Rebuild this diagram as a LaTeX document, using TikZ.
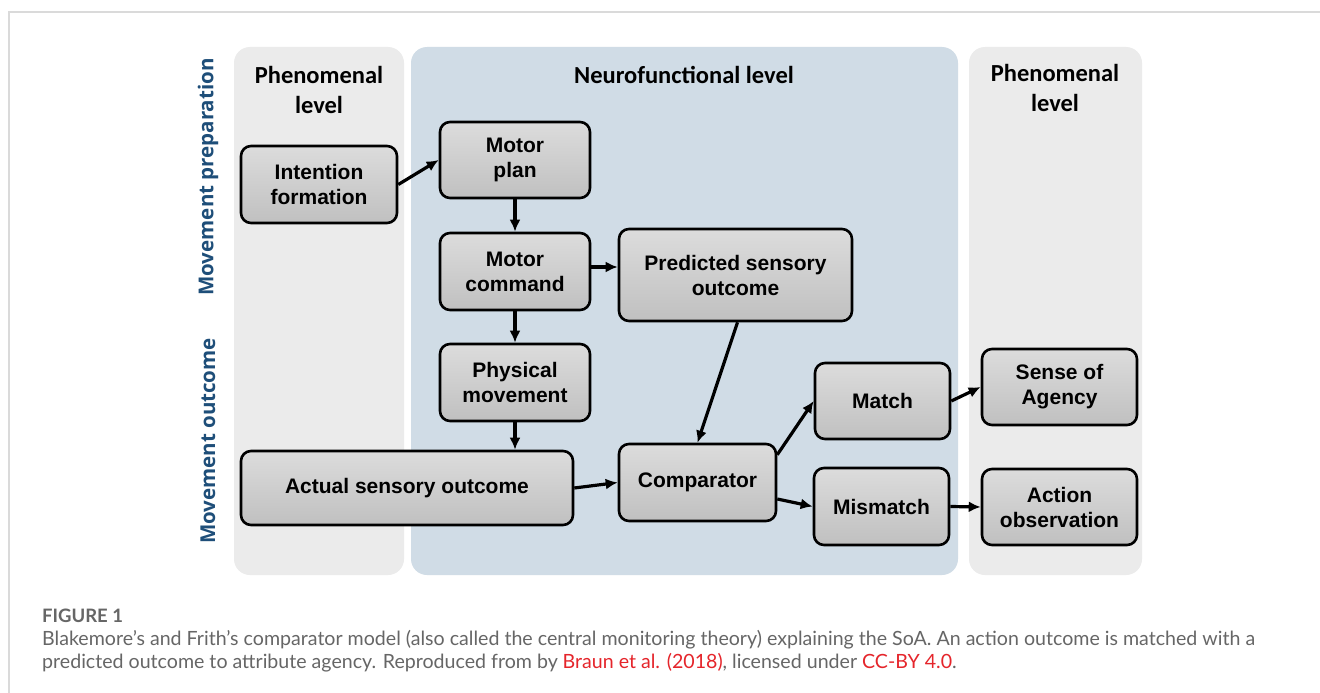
\documentclass[tikz,border=0pt]{standalone}
\usepackage{fontspec}
\setmainfont{Liberation Sans}
\newfontfamily\hdrfont{Carlito}
\newfontfamily\sidefont{Open Sans}
\newfontfamily\capfont{Lato}
\usetikzlibrary{arrows.meta}
\definecolor{panelgray}{HTML}{EBEBEB}
\definecolor{panelblue}{HTML}{D0DCE6}
\definecolor{sideblue}{HTML}{1E4E79}
\definecolor{framegray}{HTML}{DADADA}
\definecolor{captext}{HTML}{666666}
\definecolor{capred}{HTML}{E5252B}
\definecolor{boxtop}{HTML}{DCDCDC}
\definecolor{boxbot}{HTML}{C0C0C0}
\tikzset{
  panel/.style={fill=#1, draw=none, rounded corners=16pt},
  box/.style={draw=black, line width=2.6pt, rounded corners=10pt, top color=boxtop, bottom color=boxbot,
    inner sep=0pt, align=center, font=\fontsize{21}{25}\selectfont\bfseries},
  hdr/.style={align=center, font=\hdrfont\fontsize{24.5}{30}\selectfont\bfseries},
  side/.style={rotate=90, text=sideblue, font=\sidefont\fontsize{20.5}{24}\selectfont\bfseries},
  conn/.style={line width=3.2pt, -{Latex[length=12pt,width=11pt]}},
  captxt/.style={anchor=base west, inner sep=0pt, text=captext, font=\capfont\fontsize{19.6}{22}\selectfont}
}
\begin{document}
\begin{tikzpicture}[x=1pt,y=-1pt]
\useasboundingbox (0,0) rectangle (1320,693);
\fill[white] (0,0) rectangle (1320,693);
% frame
\draw[framegray, line width=1.5pt] (9,693) -- (9,12) -- (1320,12);
% panels
\fill[panel=panelgray] (234,47) rectangle (404,575);
\fill[panel=panelblue] (411,47) rectangle (958,575);
\fill[panel=panelgray] (969,47) rectangle (1142,575);
% side labels
\node[side] (prep) at (208,177) {Movement preparation};
\node[side] (outc) at (208,441) {Movement outcome};
% headers
\node[hdr] (hl) at (319,90) {Phenomenal\\level};
\node[hdr] (hm) at (684,75) {Neurofunctional level};
\node[hdr] (hr) at (1055,88) {Phenomenal\\level};
% boxes
\node[box, minimum width=156pt, minimum height=77pt] (intention) at (319,184.5) {Intention\\formation};
\node[box, minimum width=150pt, minimum height=76pt] (motorplan) at (515,160) {Motor\\plan};
\node[box, minimum width=150pt, minimum height=77pt] (motorcmd) at (515,271.5) {Motor\\command};
\node[box, minimum width=150pt, minimum height=77pt] (physical) at (515,382.5) {Physical\\movement};
\node[box, minimum width=332pt, minimum height=74pt] (actual) at (407,488) {Actual sensory outcome};
\node[box, minimum width=233pt, minimum height=92pt] (predicted) at (735.5,275) {Predicted sensory\\outcome};
\node[box, minimum width=157pt, minimum height=77pt] (comparator) at (697.5,482.5) {Comparator};
\node[box, minimum width=135pt, minimum height=76pt] (match) at (882.5,401) {Match};
\node[box, minimum width=135pt, minimum height=77pt] (mismatch) at (881.5,506.5) {Mismatch};
\node[box, minimum width=155pt, minimum height=76pt] (sense) at (1059.5,387) {Sense of\\Agency};
\node[box, minimum width=155pt, minimum height=76pt] (action) at (1059.5,507) {Action\\observation};
% connectors
\draw[conn] (intention.east) -- (motorplan.west);
\draw[conn] (motorplan.south) -- (motorcmd.north);
\draw[conn] ([yshift=4.5pt]motorcmd.east) -- ([yshift=8pt]predicted.west);
\draw[conn] (motorcmd.south) -- (physical.north);
\draw[conn] (physical.south) -- (physical.south |- actual.north);
\draw[conn] (actual.east) -- (comparator.west);
\draw[conn] ([xshift=2pt]predicted.south) -- (comparator.north);
\draw[conn] ([yshift=-12pt]comparator.north east) -- (match.west);
\draw[conn] ([yshift=-16.5pt]comparator.east) -- (mismatch.west);
\draw[conn] (match.east) -- (sense.west);
\draw[conn] (mismatch.east) -- (action.west);
% caption
\node[captxt, font=\capfont\fontsize{18.5}{20}\selectfont\bfseries] (fig) at (42,622) {FIGURE 1};
\node[captxt] (cap1) at (42,645) {Blakemore’s and Frith’s comparator model (also called the central monitoring theory) explaining the SoA. An action outcome is matched with a};
\node[captxt] (cap2) at (42,668) {predicted outcome to attribute agency. Reproduced from by \textcolor{capred}{Braun et al. (2018)}, licensed under \textcolor{capred}{CC-BY 4.0}.};
\end{tikzpicture}
\end{document}
